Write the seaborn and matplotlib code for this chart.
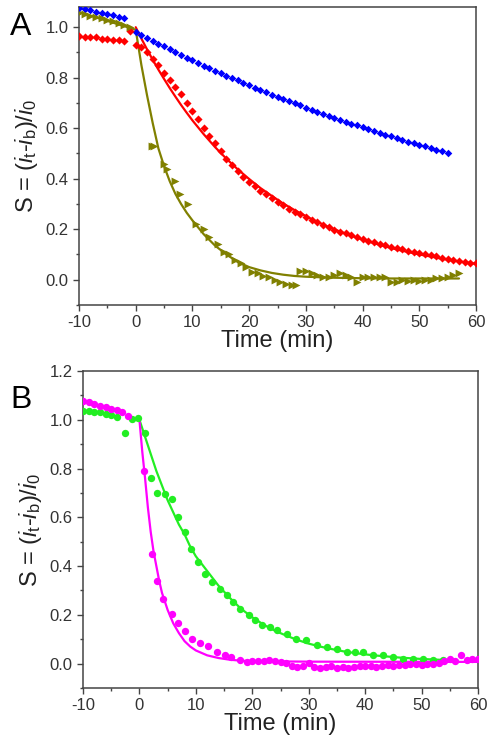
import numpy as np
import pandas as pd
import matplotlib
matplotlib.use("Agg")
import matplotlib.pyplot as plt
from matplotlib.ticker import MultipleLocator
import seaborn as sns

sns.set_style("ticks")
plt.rcParams['font.family'] = ['Liberation Sans', 'DejaVu Sans']
plt.rcParams['mathtext.fontset'] = 'custom'
plt.rcParams['mathtext.rm'] = 'Liberation Sans'
plt.rcParams['mathtext.it'] = 'Liberation Sans:italic'
plt.rcParams['axes.unicode_minus'] = False

# ---------------- Panel A data ----------------
blue_t = [-10, -9, -8, -7, -6, -5, -4, -3, -2] + list(range(0, 56))
blue_s = [1.077, 1.072, 1.067, 1.062, 1.057, 1.052, 1.047, 1.042, 1.037,
          0.982, 0.970, 0.958, 0.947, 0.935, 0.924, 0.913, 0.902, 0.891, 0.880,
          0.869, 0.859, 0.848, 0.838, 0.828, 0.818, 0.808, 0.798, 0.789, 0.779,
          0.770, 0.760, 0.751, 0.742, 0.733, 0.724, 0.715, 0.707, 0.698, 0.690,
          0.681, 0.673, 0.665, 0.657, 0.649, 0.641, 0.633, 0.626, 0.618, 0.611,
          0.603, 0.596, 0.589, 0.582, 0.575, 0.568, 0.561, 0.554, 0.547, 0.541,
          0.534, 0.528, 0.521, 0.515, 0.509, 0.503]

red_t = list(range(-10, 61))
red_s = [0.965, 0.963, 0.962, 0.960, 0.955, 0.952, 0.950, 0.948, 0.945, 0.985,
         0.930, 0.920, 0.900, 0.875, 0.850, 0.820, 0.790, 0.765, 0.735, 0.700,
         0.670, 0.635, 0.600, 0.570, 0.540, 0.510, 0.480, 0.455, 0.430, 0.408,
         0.388, 0.372, 0.352, 0.338, 0.322, 0.308, 0.294, 0.282, 0.270, 0.260,
         0.248, 0.238, 0.228, 0.218, 0.208, 0.198, 0.190, 0.184, 0.177, 0.170,
         0.163, 0.155, 0.148, 0.143, 0.137, 0.130, 0.125, 0.120, 0.115, 0.110,
         0.107, 0.101, 0.097, 0.093, 0.088, 0.084, 0.080, 0.076, 0.072, 0.068,
         0.065]
red_fit_t = [0, 1, 2, 3, 4, 5, 6, 7, 8, 9, 10, 12, 14, 16, 18, 20, 22, 24, 26,
             28, 30, 32, 34, 36, 38, 40, 42, 44, 46, 48, 50, 52, 54, 56, 58, 60]
red_fit_s = [1.0, 0.955, 0.912, 0.871, 0.832, 0.795, 0.759, 0.725, 0.692, 0.661,
             0.631, 0.576, 0.525, 0.479, 0.437, 0.399, 0.363, 0.332, 0.302, 0.276,
             0.252, 0.229, 0.209, 0.191, 0.174, 0.159, 0.145, 0.132, 0.120, 0.110,
             0.100, 0.092, 0.083, 0.076, 0.069, 0.063]

olive_t = [-10, -9, -8, -7, -6, -5, -4, -3, -2, -1,
           2.8, 3.3, 4.9, 5.6, 7.0, 7.8, 9.3, 10.7, 12.0, 13.0, 14.5, 15.5, 16.5,
           17.5, 18.5, 19.5, 20.5, 21.5, 22.5, 23.5, 24.5, 25.5, 26.5, 27.5, 28.3,
           29, 30, 31, 32, 33, 34, 35, 36, 37, 38, 39, 40, 41, 42, 43, 44, 45, 46,
           47, 48, 49, 50, 51, 52, 53, 54, 55, 56, 57]
olive_s = [1.058, 1.052, 1.046, 1.040, 1.035, 1.030, 1.024, 1.018, 1.010, 1.000,
           0.530, 0.530, 0.460, 0.440, 0.390, 0.340, 0.300, 0.220, 0.200, 0.170,
           0.140, 0.110, 0.100, 0.080, 0.065, 0.050, 0.030, 0.025, 0.015, 0.010,
           0.000, -0.010, -0.015, -0.020, -0.022,
           0.036, 0.035, 0.025, 0.020, 0.010, 0.012, 0.020, 0.025, 0.020, 0.010,
           -0.010, 0.010, 0.012, 0.010, 0.010, 0.012, -0.010, -0.010, 0.000,
           -0.005, 0.000, -0.005, 0.000, 0.000, 0.005, 0.005, 0.010, 0.020, 0.025]
olive_fit_t = [-10, 0, 1, 2, 3, 4, 5, 6, 7, 8, 9, 10, 12, 14, 16, 18, 20, 22, 24,
               26, 28, 30, 35, 40, 45, 50, 57]
olive_fit_s = [1.06, 0.99, 0.85, 0.73, 0.62, 0.52, 0.45, 0.39, 0.34, 0.30, 0.265,
               0.235, 0.18, 0.135, 0.10, 0.07, 0.05, 0.037, 0.027, 0.02, 0.015,
               0.012, 0.008, 0.006, 0.005, 0.005, 0.005]

# ---------------- Panel B data ----------------
mag_t = [-10, -9, -8, -7, -6, -5, -4, -3, -2,
         0.8, 2.2, 3.05, 4.2, 5.7, 6.8, 8.0, 9.3, 10.7, 12.2, 13.7, 15.2, 16.3,
         17.8, 19] + list(range(20, 61))
mag_s = [1.078, 1.072, 1.066, 1.058, 1.052, 1.046, 1.040, 1.030, 1.016,
         0.790, 0.450, 0.340, 0.266, 0.204, 0.166, 0.133, 0.102, 0.084, 0.071,
         0.047, 0.034, 0.027, 0.013, 0.007,
         0.012, 0.010, 0.012, 0.014, 0.012, 0.008, 0.004, -0.010, -0.012, -0.008,
         0.004, -0.015, -0.020, -0.012, -0.010, -0.018, -0.015, -0.018, -0.012,
         -0.010, -0.008, -0.010, -0.012, -0.008, -0.006, -0.010, -0.006, -0.004,
         -0.003, 0.000, -0.005, -0.002, 0.000, 0.003, 0.010, 0.018, 0.012, 0.035,
         0.015, 0.020, 0.020]
mag_fit_t = [0, 0.5, 1, 1.5, 2, 2.5, 3, 3.5, 4, 5, 6, 7, 8, 9, 10, 12, 14, 16,
             18, 20, 30, 60]
mag_fit_s = [1.0, 0.87, 0.76, 0.64, 0.54, 0.46, 0.40, 0.34, 0.29, 0.22, 0.165,
             0.125, 0.092, 0.07, 0.054, 0.034, 0.023, 0.016, 0.012, 0.01, 0.008,
             0.007]

green_t = [-10, -9, -8, -7, -6, -5, -4, -2.5, -1.4, -0.2,
           1.0, 2.1, 3.2, 4.5, 5.7, 6.9, 8.1, 9.1, 10.3, 11.7, 12.8, 14.3, 15.5,
           16.6, 17.8, 19.4, 20.5, 21.7, 23.1, 24.3, 26.1, 27.8, 29.6, 31.4, 33.2,
           35.0, 36.7, 38.2, 39.7, 41.4, 43.2, 45.0, 46.7, 48.5, 50.3, 52.1, 53.8]
green_s = [1.036, 1.034, 1.032, 1.030, 1.022, 1.020, 1.010, 0.947, 1.002, 1.009,
           0.947, 0.763, 0.700, 0.695, 0.675, 0.600, 0.538, 0.470, 0.418, 0.368,
           0.334, 0.307, 0.280, 0.252, 0.225, 0.198, 0.180, 0.157, 0.150, 0.136,
           0.123, 0.102, 0.095, 0.075, 0.068, 0.061, 0.047, 0.047, 0.047, 0.034,
           0.034, 0.027, 0.020, 0.020, 0.020, 0.014, 0.014]
green_fit_t = [0, 1, 2, 3, 4, 5, 6, 7, 8, 9, 10, 12, 14, 16, 18, 20, 22, 24, 26,
               28, 30, 32, 34, 36, 38, 40, 42, 44, 46, 48, 50, 52, 54]
green_fit_s = [1.0, 0.93, 0.86, 0.79, 0.73, 0.67, 0.62, 0.57, 0.53, 0.48, 0.44,
               0.38, 0.32, 0.27, 0.225, 0.19, 0.16, 0.135, 0.115, 0.097, 0.082,
               0.07, 0.06, 0.051, 0.044, 0.038, 0.033, 0.029, 0.025, 0.022, 0.019,
               0.017, 0.015]

c_blue, c_red, c_olive = '#0000ff', '#ff0000', '#808000'
c_mag, c_green = '#ff00ff', '#22ee22'
axis_grey = '#444444'

fig = plt.figure(figsize=(4.95, 7.5), dpi=100)
axA = fig.add_axes([79 / 495, 1 - 305 / 750, (476 - 79) / 495, (305 - 7) / 750])
axB = fig.add_axes([83 / 495, 1 - 688 / 750, (478 - 83) / 495, (688 - 371) / 750])


def scatter(ax, t, s, color, marker, size):
    df = pd.DataFrame({'t': t, 's': s})
    sns.scatterplot(data=df, x='t', y='s', ax=ax, color=color, marker=marker,
                    s=size, linewidth=0, zorder=3)


def fit(ax, t, s, color):
    df = pd.DataFrame({'t': t, 's': s})
    sns.lineplot(data=df, x='t', y='s', ax=ax, color=color, lw=1.6,
                 estimator=None, sort=False, zorder=2)


# Panel A
fit(axA, red_fit_t, red_fit_s, c_red)
fit(axA, olive_fit_t, olive_fit_s, c_olive)
scatter(axA, blue_t, blue_s, c_blue, 'D', 15)
scatter(axA, red_t, red_s, c_red, 'D', 17)
scatter(axA, olive_t, olive_s, c_olive, '>', 32)
axA.set_ylim(-0.1, 1.08)

# Panel B
fit(axB, green_fit_t, green_fit_s, c_green)
fit(axB, mag_fit_t, mag_fit_s, c_mag)
scatter(axB, green_t, green_s, c_green, 'o', 28)
scatter(axB, mag_t, mag_s, c_mag, 'o', 28)
axB.set_ylim(-0.1, 1.2)

ylab = r'S = ($\mathit{i}_{\rm t}$-$\mathit{i}_{\rm b}$)/$\mathit{i}_{\rm 0}$'
for ax, label, ylab_y in [(axA, 'A', 1 - 27 / 750), (axB, 'B', 1 - 400 / 750)]:
    ax.set_xlim(-10, 60)
    ax.xaxis.set_major_locator(MultipleLocator(10))
    ax.xaxis.set_minor_locator(MultipleLocator(5))
    ax.yaxis.set_major_locator(MultipleLocator(0.2))
    ax.yaxis.set_minor_locator(MultipleLocator(0.1))
    ax.yaxis.set_major_formatter(matplotlib.ticker.FormatStrFormatter('%.1f'))
    ax.tick_params(which='major', direction='out', length=4, width=1,
                   colors=axis_grey, labelsize=12, labelcolor='#333333')
    ax.tick_params(which='minor', direction='out', length=2.5, width=1,
                   colors=axis_grey)
    for sp in ax.spines.values():
        sp.set_color(axis_grey)
        sp.set_linewidth(1.1)
    ax.set_xlabel('Time (min)', fontsize=17, color='#222222', labelpad=0)
    ax.set_ylabel(ylab, fontsize=17, color='#222222', labelpad=4)
    fig.text(10 / 495, ylab_y, label, fontsize=23, color='black', va='center')

fig.savefig('out.png', dpi=100)
